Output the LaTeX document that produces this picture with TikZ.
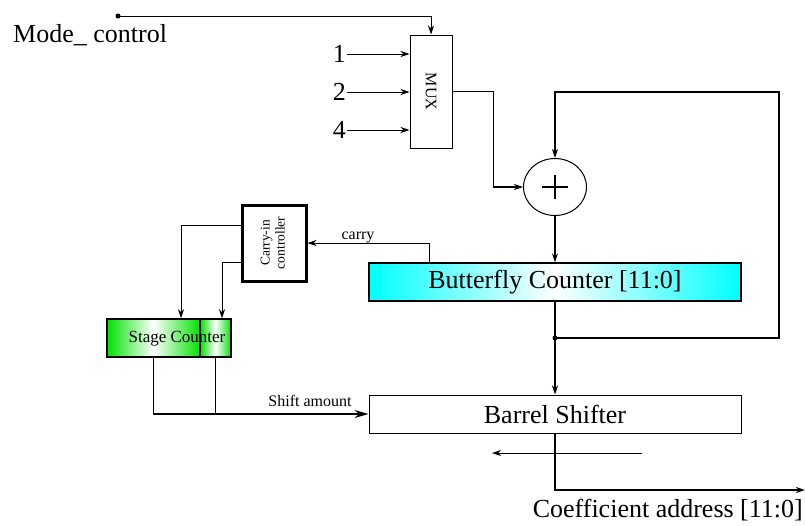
\documentclass[tikz,border=0pt]{standalone}
\usepackage{fontspec}
\setmainfont{Liberation Serif}
\usetikzlibrary{shapes.geometric, arrows.meta, positioning, calc}

\definecolor{stagegreen}{RGB}{0,225,0}

\begin{document}
\begin{tikzpicture}[
  x=1pt, y=-1pt,
  box/.style={rectangle, draw=black, line width=1pt, inner sep=0pt},
  arrow/.style={-{Stealth[length=9pt,width=6pt]}, line width=1pt},
  big/.style={font=\fontsize{26}{29}\selectfont},
  small/.style={font=\fontsize{16}{18}\selectfont}
]
\useasboundingbox (0,0) rectangle (805,525);

% blocks
\node[box, minimum width=42pt, minimum height=113pt, small] (mux) at (431,91.5) {\rotatebox{-90}{MUX}};
\node[draw, ellipse, line width=1pt, minimum width=63pt, minimum height=57pt] (adder) at (555,187) {};
\draw[line width=1.3pt] ($(adder.center)+(-13,0)$) -- ($(adder.center)+(13,0)$)
                        ($(adder.center)+(0,-12)$) -- ($(adder.center)+(0,12)$);
\node[box, line width=1.3pt, minimum width=372pt, minimum height=38pt, big,
      left color=cyan, right color=cyan, middle color=white] (bfc) at (555,282) {Butterfly Counter [11:0]};
\node[box, line width=3pt, minimum width=64pt, minimum height=76pt, font=\fontsize{13.5}{15}\selectfont]
      (carryctl) at (274,243) {\rotatebox{90}{\begin{tabular}{@{}c@{}}Carry-in\\controller\end{tabular}}};
\node[box, line width=1.5pt, minimum width=93pt, minimum height=38pt,
      left color=stagegreen, right color=stagegreen, middle color=white] (stageL) at (153.5,338) {};
\node[box, line width=1.5pt, minimum width=31pt, minimum height=38pt,
      left color=stagegreen, right color=stagegreen, middle color=white] (stageR) at (215.5,338) {};
\node[font=\fontsize{17}{19}\selectfont] (stagetxt) at (177,339) {Stage Counter};
\node[box, minimum width=372pt, minimum height=38pt, big] (barrel) at (555,414) {Barrel Shifter};

% labels
\node[big, anchor=base west, inner sep=0pt] (modelbl) at (13,42) {Mode\_ control};
\node[big, anchor=east, inner sep=1pt] (in1) at (347,54) {1};
\node[big, anchor=east, inner sep=1pt] (in2) at (347,92) {2};
\node[big, anchor=east, inner sep=1pt] (in4) at (347,130) {4};
\node[small, anchor=base] (carrylbl) at (358,239) {carry};
\node[small, anchor=base] (shiftlbl) at (310,406) {Shift amount};
\node[big, anchor=base east, inner sep=0pt] (outlbl) at (803,517) {Coefficient address [11:0]};

\coordinate (mc) at (118,16);
\coordinate (tap) at (555,338);
\coordinate (fbR) at (779,92);
\coordinate (cy) at (429,263);
\coordinate (c1) at (181,225);
\coordinate (c2) at (222,262);
\coordinate (out) at (805,490);
\coordinate (sa) at (642,453);
\coordinate (sb) at (492,453);

% wires
\fill (mc) circle (2.5pt);
\draw[arrow] (mc) -| (mux.north);
\draw[arrow] (in1.east) -- (in1.east -| mux.west);
\draw[arrow] (in2.east) -- (in2.east -| mux.west);
\draw[arrow] (in4.east) -- (in4.east -| mux.west);
\draw[arrow, line width=1.3pt] (mux.east) -- ++(41,0) |- (adder.west);
\draw[arrow, line width=1.3pt] (adder.south) -- (bfc.north);
\draw[arrow, line width=1.3pt] (bfc.south) -- (barrel.north);
\fill (tap) circle (2.5pt);
\draw[arrow, line width=1.3pt] (tap) -| (fbR) -| (adder.north);
\draw[arrow, line width=0.8pt] (cy) |- (carryctl.east);
\draw[arrow] (c1 -| carryctl.west) -- (c1) -- (c1 |- stageL.north);
\draw[arrow] (c2 -| carryctl.west) -- (c2) -- (c2 |- stageR.north);
\draw[-{Stealth[length=14pt,width=8pt]}, line width=1.2pt] (stageL.south) |- (barrel.west);
\draw[line width=1.2pt] (stageR.south) -- (stageR.south |- barrel.west);
\draw[arrow, line width=1.3pt] (barrel.south) |- (out);
\draw[arrow] (sa) -- (sb);
\end{tikzpicture}
\end{document}
